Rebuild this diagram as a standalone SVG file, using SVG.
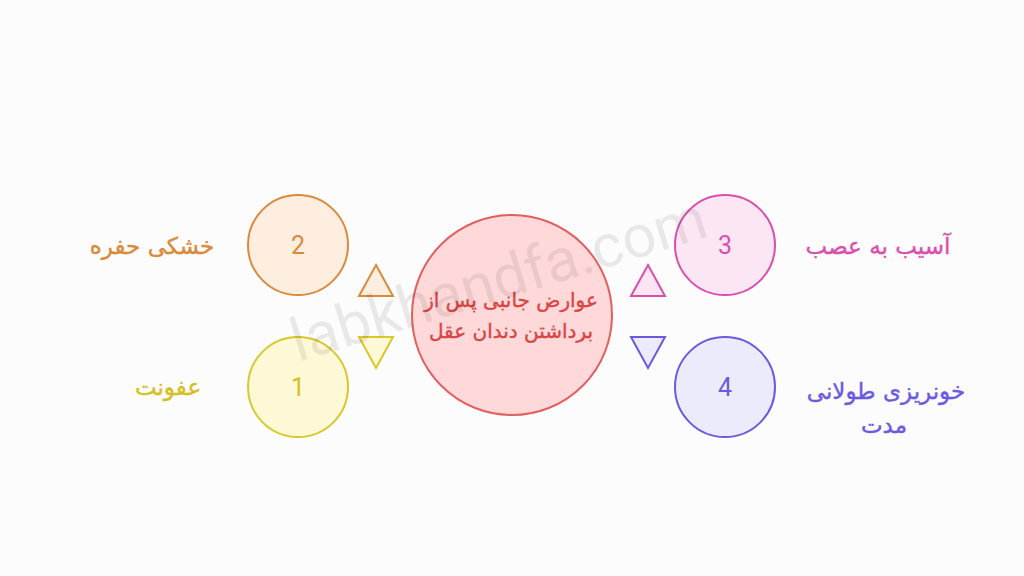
<svg xmlns="http://www.w3.org/2000/svg" width="1024" height="576" viewBox="0 0 1024 576">
<style>
.num{font-family:Roboto,"Liberation Sans",sans-serif;font-size:25px;text-anchor:middle;dominant-baseline:central}
.lbl{font-family:"DejaVu Sans","Noto Sans",sans-serif;font-size:23px;text-anchor:middle;direction:rtl;stroke-width:0.4}
.ctr{font-family:"DejaVu Sans","Noto Sans",sans-serif;font-size:20px;text-anchor:middle;direction:rtl;stroke-width:0.4}
.c{stroke-width:2}
.tri{stroke-width:2;stroke-linejoin:miter}
</style>
<rect width="1024" height="576" fill="#fcfcfc"/>
<g id="center">
<circle cx="512" cy="315" r="100" fill="#ffd9d9" stroke="#e06060" class="c"/>
<text class="ctr" x="511" y="307" fill="#d94545" stroke="#d94545">عوارض جانبی پس از</text>
<text class="ctr" x="511" y="338" fill="#d94545" stroke="#d94545">برداشتن دندان عقل</text>
</g>
<g id="connectors">
<polygon class="tri" points="376,265 393,296 359,296" fill="#fdeee0" stroke="#d98a3a"/>
<polygon class="tri" points="359,337 393,337 376,368" fill="#fdf9d6" stroke="#d9c82a"/>
<polygon class="tri" points="648,265 665,296 631,296" fill="#fde6f4" stroke="#d94fae"/>
<polygon class="tri" points="631,337 665,337 648,368" fill="#ecebfc" stroke="#6a5ae0"/>
</g>
<g id="node2">
<circle cx="298" cy="245" r="50" fill="#fdeee0" stroke="#d98a3a" class="c"/>
<text class="num" x="298" y="245" fill="#d98a3a">2</text>
<text class="lbl" x="152" y="254" fill="#d98a3a" stroke="#d98a3a">خشکی حفره</text>
</g>
<g id="node1">
<circle cx="298" cy="387" r="50" fill="#fdf9d6" stroke="#d9c82a" class="c"/>
<text class="num" x="298" y="387" fill="#d4c020">1</text>
<text class="lbl" x="168" y="395" fill="#d4c020" stroke="#d4c020">عفونت</text>
</g>
<g id="node3">
<circle cx="725" cy="245" r="50" fill="#fde6f4" stroke="#d94fae" class="c"/>
<text class="num" x="725" y="245" fill="#d94fae">3</text>
<text class="lbl" x="878" y="254" fill="#d94fae" stroke="#d94fae">آسیب به عصب</text>
</g>
<g id="node4">
<circle cx="725" cy="387" r="50" fill="#ecebfc" stroke="#6a5ae0" class="c"/>
<text class="num" x="725" y="387" fill="#6a5ae0">4</text>
<text class="lbl" x="886" y="399" fill="#6a5ae0" stroke="#6a5ae0">خونریزی طولانی</text>
<text class="lbl" x="884" y="433" fill="#6a5ae0" stroke="#6a5ae0">مدت</text>
</g>
<text x="298" y="362" transform="rotate(-17 298 362)" font-family="Roboto,'Liberation Sans',sans-serif" font-size="60" fill="#000" fill-opacity="0.08">labkhandfa.com</text>
</svg>
